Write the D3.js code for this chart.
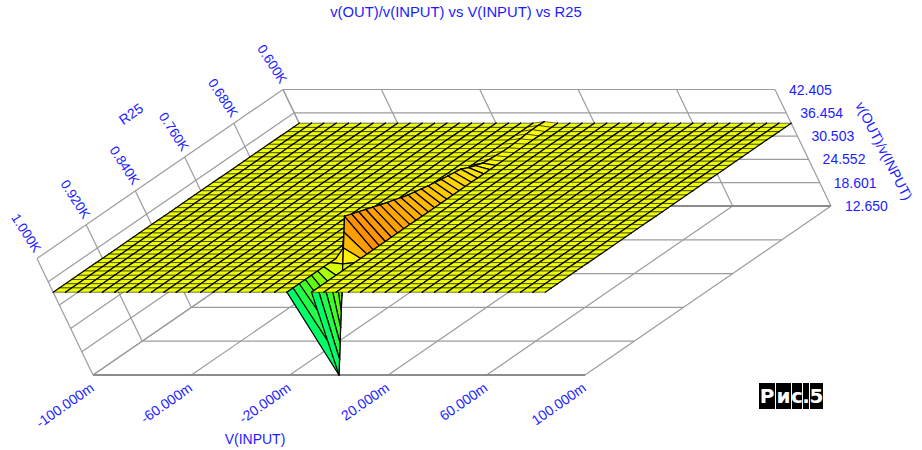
<!DOCTYPE html>
<html>
<head>
<meta charset="utf-8">
<script src="https://cdn.jsdelivr.net/npm/d3@7"></script>
<style>
  html, body { margin: 0; padding: 0; background: #fff; }
  svg { display: block; }
  text { font-family: "Liberation Sans", Arial, sans-serif; fill: #1c1cff; }
</style>
</head>
<body>
<div class="Surface"></div>
<script>
const vInputTicks = [-100, -60, -20, 20, 60, 100];
const vInputLabels = ["-100.000m", "-60.000m", "-20.000m", "20.000m", "60.000m", "100.000m"];
const r25Ticks = [1000, 920, 840, 760, 680, 600];
const r25Labels = ["1.000K", "0.920K", "0.840K", "0.760K", "0.680K", "0.600K"];
const zTicks = [12.65, 18.601, 24.552, 30.503, 36.454, 42.405];
const zLabels = ["12.650", "18.601", "24.552", "30.503", "36.454", "42.405"];

// sweep points of the simulation
const vInputSweep = [-100, -95, -90, -85, -80, -75, -70, -65, -60, -55, -50, -45, -40, -35, -30, -25, -20, -15, -10, -5,
  0, 5, 10, 15, 20, 25, 30, 35, 40, 45, 50, 55, 60, 65, 70, 75, 80, 85, 90, 95, 100];
const r25Sweep = [1000, 990, 980, 970, 960, 950, 940, 930, 920, 910, 900, 890, 880, 870, 860, 850, 840, 830, 820, 810,
  800, 790, 780, 770, 760, 750, 740, 730, 720, 710, 700, 690, 680, 670, 660, 650, 640, 630, 620, 610, 600];

// gain away from V(INPUT)=0, and the ridge at V(INPUT)=0 for each R25
const plateauGain = 33.8;
const ridgeGain = [12.65, 15.6, 18.6, 21.6, 24.55, 27.5, 30.5, 33.5, 36.45, 39.4, 42.4,
  41.9, 41.4, 40.9, 40.4, 39.9, 39.4, 39.0, 38.5, 38.1,
  37.8, 37.5, 37.2, 37.0, 36.7, 36.5, 36.3, 36.1,
  35.4, 34.8, 34.4, 34.2, 34.1, 34.0, 33.95, 34.0, 34.1, 34.2, 34.3, 34.3, 34.2];

const colorStops = [12.65, 23.95, 28.9, 33.8, 34.1, 35, 36, 38, 42.405];
const colorValues = ["#00ff66", "#00ff66", "#66ff00", "#eeff00", "#ffff00", "#ffdc00", "#ffb400", "#ff9000", "#ff2000"];

const width = 922, height = 450;

const svg = d3.select(".Surface").append("svg")
  .attr("width", width)
  .attr("height", height);

const xScale = d3.scaleLinear().domain([-100, 100]).range([0, 492]);
const rScale = d3.scaleLinear().domain([1000, 600]).range([0, 1]);
const zScale = d3.scaleLinear().domain([12.65, 42.405]).range([0, 1]);
const color = d3.scaleLinear().domain(colorStops).range(colorValues);

// oblique projection: front left floor corner, R25 edge and Z edge
const origin = [93, 375], rEdge = [246, -169], zEdge = [-56, -116.5];

function project(v, r, z) {
  const rn = rScale(r), zn = zScale(z);
  return [origin[0] + xScale(v) + rn * rEdge[0] + zn * zEdge[0],
          origin[1] + rn * rEdge[1] + zn * zEdge[1]];
}

function gainAt(i, j) {
  return vInputSweep[i] === 0 ? ridgeGain[j] : plateauGain;
}

function drawGrid() {
  const zMin = zTicks[0], zMax = zTicks[zTicks.length - 1];
  const vMin = vInputTicks[0], vMax = vInputTicks[5];
  const rFront = r25Ticks[0], rBack = r25Ticks[5];
  const segments = [];

  vInputTicks.forEach(v => {
    segments.push([project(v, rFront, zMin), project(v, rBack, zMin)]);
    segments.push([project(v, rBack, zMin), project(v, rBack, zMax)]);
  });
  r25Ticks.forEach((r, k) => {
    segments.push([project(vMin, r, zMin), project(vMax, r, zMin), k === 0 ? "edge" : ""]);
    segments.push([project(vMin, r, zMin), project(vMin, r, zMax)]);
  });
  zTicks.forEach((z, k) => {
    segments.push([project(vMin, rFront, z), project(vMin, rBack, z)]);
    segments.push([project(vMin, rBack, z), project(vMax, rBack, z), k === 0 ? "edge" : ""]);
  });

  svg.append("g").selectAll("line")
    .data(segments)
    .join("line")
    .attr("x1", d => d[0][0]).attr("y1", d => d[0][1])
    .attr("x2", d => d[1][0]).attr("y2", d => d[1][1])
    .attr("stroke", d => d[2] === "edge" ? "#8c8c8c" : "#9c9c9c")
    .attr("stroke-width", d => d[2] === "edge" ? 2 : 1.2);
}

function drawSurface() {
  const cells = [];
  // far to near: V(INPUT) left to right, inside it R25 back to front
  for (let i = 0; i < vInputSweep.length - 1; i++) {
    for (let j = r25Sweep.length - 2; j >= 0; j--) {
      const corners = [[i, j], [i + 1, j], [i + 1, j + 1], [i, j + 1]];
      const gains = corners.map(c => gainAt(c[0], c[1]));
      cells.push({
        pts: corners.map(c => project(vInputSweep[c[0]], r25Sweep[c[1]], gainAt(c[0], c[1]))),
        gain: d3.mean(gains),
        flat: d3.max(gains) - d3.min(gains) < 1
      });
    }
  }
  const line = d3.line();
  const fillLine = d3.line().curve(d3.curveLinearClosed);
  const cell = svg.append("g").selectAll("g")
    .data(cells)
    .join("g")
    .attr("fill", "none")
    .attr("stroke", "#000")
    .attr("stroke-linecap", "round");

  cell.append("path")
    .attr("d", d => fillLine(d.pts))
    .attr("fill", d => color(d.gain))
    .attr("stroke", "none");
  // lines along V(INPUT): flat ones look thin in the reference
  cell.append("path")
    .attr("d", d => line([d.pts[0], d.pts[1]]) + line([d.pts[3], d.pts[2]]))
    .attr("stroke-width", d => d.flat ? 0.55 : 1.2);
  // lines along R25
  cell.append("path")
    .attr("d", d => line([d.pts[0], d.pts[3]]) + line([d.pts[1], d.pts[2]]))
    .attr("stroke-width", 1.25);
}

function drawLabels() {
  svg.append("text")
    .attr("x", 456).attr("y", 17)
    .attr("text-anchor", "middle")
    .style("font-size", "14.8px")
    .text("v(OUT)/v(INPUT) vs V(INPUT) vs R25");

  svg.append("g").selectAll("text")
    .data(vInputTicks)
    .join("text")
    .attr("text-anchor", "end")
    .attr("transform", d => {
      const p = project(d, 1000, 12.65);
      return `translate(${p[0] + 2},${p[1] + 15}) rotate(-35)`;
    })
    .style("font-size", "14px")
    .text((d, i) => vInputLabels[i]);

  svg.append("g").selectAll("text")
    .data(r25Ticks)
    .join("text")
    .attr("text-anchor", "end")
    .attr("transform", d => {
      const p = project(-100, d, 42.405);
      return `translate(${p[0] - 3},${p[1] - 5}) rotate(57)`;
    })
    .style("font-size", "13.5px")
    .text((d, i) => r25Labels[i]);

  svg.append("g").selectAll("text")
    .data(zTicks)
    .join("text")
    .attr("x", d => project(100, 600, d)[0] + 14)
    .attr("y", d => project(100, 600, d)[1] + 5)
    .style("font-size", "14px")
    .text((d, i) => zLabels[i]);

  svg.append("text")
    .attr("x", 255).attr("y", 444)
    .attr("text-anchor", "middle")
    .style("font-size", "14px")
    .text("V(INPUT)");

  svg.append("text")
    .attr("text-anchor", "middle")
    .attr("transform", "translate(131,114) rotate(-35)")
    .attr("dy", "0.35em")
    .style("font-size", "14px")
    .text("R25");

  svg.append("text")
    .attr("text-anchor", "middle")
    .attr("transform", "translate(884,151) rotate(63)")
    .attr("dy", "0.35em")
    .style("font-size", "14px")
    .text("v(OUT)/v(INPUT)");
}

const figureChars = ["Р", "и", "с", ".", "5"];
const figureWidths = [17, 16, 11, 7, 14];

function drawFigureTag() {
  const offsets = d3.cumsum(figureWidths).map((d, i) => d - figureWidths[i]);
  const tag = svg.append("g").attr("transform", "translate(759,383)");
  const cell = tag.selectAll("g")
    .data(figureChars)
    .join("g")
    .attr("transform", (d, i) => `translate(${offsets[i]},0)`);
  cell.append("rect")
    .attr("width", (d, i) => figureWidths[i] - 1)
    .attr("height", 26)
    .attr("fill", "#000");
  cell.append("text")
    .attr("x", (d, i) => (figureWidths[i] - 1) / 2)
    .attr("y", 20)
    .attr("text-anchor", "middle")
    .style("font-family", '"DejaVu Sans", sans-serif')
    .style("font-weight", "bold")
    .style("font-size", "20px")
    .style("fill", "#fff")
    .text(d => d);
}

drawGrid();
drawSurface();
drawLabels();
drawFigureTag();
</script>
</body>
</html>
